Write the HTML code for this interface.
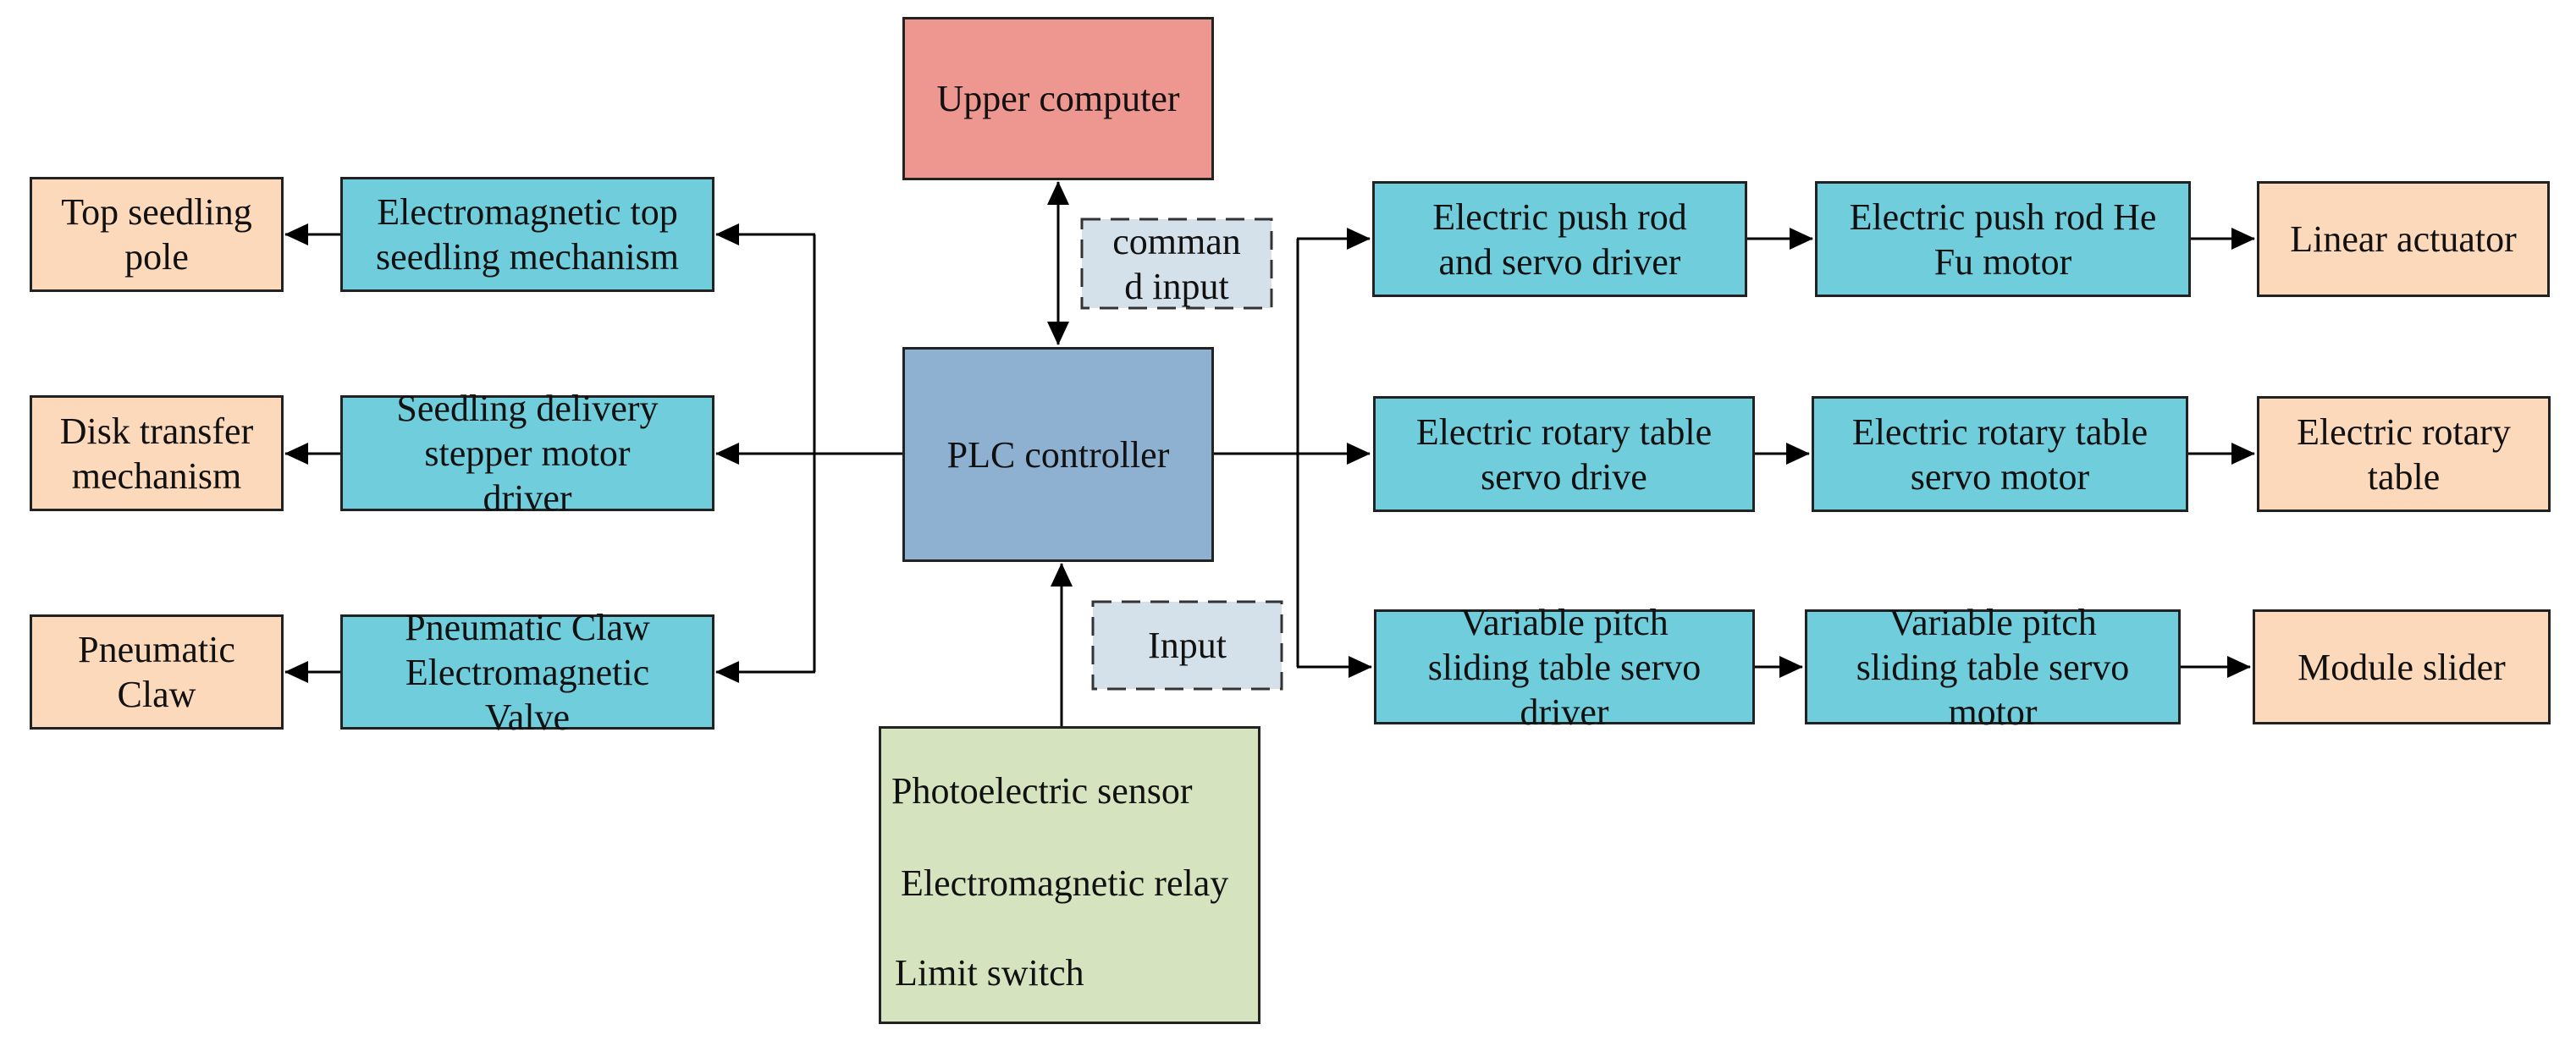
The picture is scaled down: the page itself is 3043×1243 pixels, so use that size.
<!DOCTYPE html>
<html><head><meta charset="utf-8"><style>
body{margin:0;width:3043px;height:1243px;background:#fff;position:relative;overflow:hidden;font-family:"Liberation Serif",serif;}
.b{position:absolute;box-sizing:border-box;border:3px solid #222;display:flex;align-items:center;justify-content:center;text-align:center;font-size:44px;line-height:53px;color:#111;white-space:nowrap;}
.c{background:#70CDDC}.p{background:#FDD9BC}
.d{border:none;background:transparent}
svg{position:absolute;left:0;top:0}
</style></head><body>
<svg width="3043" height="1243">
<defs>
<marker id="m" markerWidth="28" markerHeight="26" refX="27" refY="13" orient="auto" markerUnits="userSpaceOnUse"><path d="M0,0 L28,13 L0,26 z" fill="#000"/></marker>
<marker id="ms" markerWidth="28" markerHeight="26" refX="1" refY="13" orient="auto" markerUnits="userSpaceOnUse"><path d="M28,0 L0,13 L28,26 z" fill="#000"/></marker></defs>
<rect x="1278" y="259" width="224" height="105" fill="#D5E1EA" stroke="#333" stroke-width="3" stroke-dasharray="22,12"/>
<rect x="1291" y="711" width="223" height="103" fill="#D5E1EA" stroke="#333" stroke-width="3" stroke-dasharray="22,12"/>
<g stroke="#000" stroke-width="3" fill="none">
<line x1="1250" y1="215" x2="1250" y2="407" marker-start="url(#ms)" marker-end="url(#m)"/>
<line x1="1254" y1="858" x2="1254" y2="666" marker-end="url(#m)"/>
<line x1="1066" y1="536" x2="846" y2="536" marker-end="url(#m)"/>
<polyline points="962,277 962,794"/>
<line x1="963" y1="277" x2="846" y2="277" marker-end="url(#m)"/>
<line x1="963" y1="794" x2="846" y2="794" marker-end="url(#m)"/>
<line x1="402" y1="277" x2="337" y2="277" marker-end="url(#m)"/>
<line x1="402" y1="536" x2="337" y2="536" marker-end="url(#m)"/>
<line x1="402" y1="794" x2="337" y2="794" marker-end="url(#m)"/>
<line x1="1433" y1="536" x2="1618" y2="536" marker-end="url(#m)"/>
<polyline points="1533,282 1533,788"/>
<line x1="1532" y1="282" x2="1618" y2="282" marker-end="url(#m)"/>
<line x1="1532" y1="788" x2="1620" y2="788" marker-end="url(#m)"/>
<line x1="2063" y1="282" x2="2141" y2="282" marker-end="url(#m)"/>
<line x1="2587" y1="282" x2="2663" y2="282" marker-end="url(#m)"/>
<line x1="2072" y1="536" x2="2137" y2="536" marker-end="url(#m)"/>
<line x1="2584" y1="536" x2="2663" y2="536" marker-end="url(#m)"/>
<line x1="2072" y1="788" x2="2129" y2="788" marker-end="url(#m)"/>
<line x1="2575" y1="788" x2="2658" y2="788" marker-end="url(#m)"/>
</g></svg>
<div class="b" style="left:1066px;top:20px;width:368px;height:193px;background:#EE9790">Upper computer</div>
<div class="b" style="left:1066px;top:410px;width:368px;height:254px;background:#8EB0D1">PLC controller</div>
<div class="b d" style="left:1277px;top:258px;width:226px;height:107px">comman<br>d input</div>
<div class="b d" style="left:1290px;top:710px;width:225px;height:105px">Input</div>
<div class="b" style="left:1038px;top:858px;width:451px;height:352px;background:#D5E3BE;display:block;text-align:left">
<div style="position:absolute;left:12px;top:47px">Photoelectric sensor</div>
<div style="position:absolute;left:23px;top:156px">Electromagnetic relay</div>
<div style="position:absolute;left:16px;top:262px">Limit switch</div>
</div>
<div class="b p" style="left:35px;top:209px;width:300px;height:136px">Top seedling<br>pole</div>
<div class="b c" style="left:402px;top:209px;width:442px;height:136px">Electromagnetic top<br>seedling mechanism</div>
<div class="b p" style="left:35px;top:467px;width:300px;height:137px">Disk transfer<br>mechanism</div>
<div class="b c" style="left:402px;top:467px;width:442px;height:137px">Seedling delivery<br>stepper motor<br>driver</div>
<div class="b p" style="left:35px;top:726px;width:300px;height:136px">Pneumatic<br>Claw</div>
<div class="b c" style="left:402px;top:726px;width:442px;height:136px">Pneumatic Claw<br>Electromagnetic<br>Valve</div>
<div class="b c" style="left:1621px;top:214px;width:443px;height:137px">Electric push rod<br>and servo driver</div>
<div class="b c" style="left:2144px;top:214px;width:444px;height:137px">Electric push rod He<br>Fu motor</div>
<div class="b p" style="left:2666px;top:214px;width:346px;height:137px">Linear actuator</div>
<div class="b c" style="left:1622px;top:468px;width:451px;height:137px">Electric rotary table<br>servo drive</div>
<div class="b c" style="left:2140px;top:468px;width:445px;height:137px">Electric rotary table<br>servo motor</div>
<div class="b p" style="left:2666px;top:468px;width:347px;height:137px">Electric rotary<br>table</div>
<div class="b c" style="left:1623px;top:720px;width:450px;height:136px">Variable pitch<br>sliding table servo<br>driver</div>
<div class="b c" style="left:2132px;top:720px;width:444px;height:136px">Variable pitch<br>sliding table servo<br>motor</div>
<div class="b p" style="left:2661px;top:720px;width:352px;height:136px">Module slider</div>
</body></html>
